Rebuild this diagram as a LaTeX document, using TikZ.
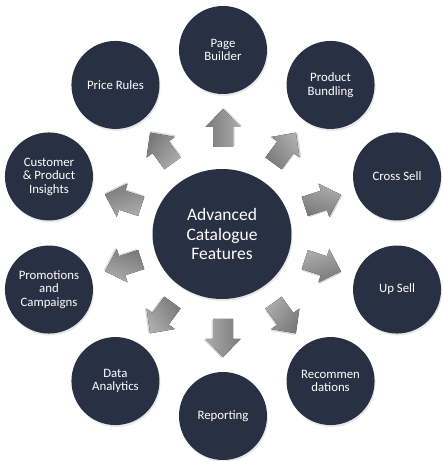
\documentclass[tikz,border=0pt]{standalone}
\usepackage{fontspec}
\setmainfont{Carlito}
\usetikzlibrary{shapes.geometric,shadows,calc}
\definecolor{navy}{RGB}{40,48,68}
\definecolor{arrtop}{RGB}{172,172,172}
\definecolor{arrbot}{RGB}{122,122,122}
\begin{document}
\begin{tikzpicture}[x=1pt,y=1pt,
  hub/.style={ellipse, fill=navy, minimum width=139pt, minimum height=130pt, inner sep=0pt,
    text=white, align=center, font=\fontsize{17.5}{19.5}\selectfont,
    drop shadow={opacity=0.18, shadow xshift=1pt, shadow yshift=-2pt}},
  sat/.style={circle, fill=navy, minimum size=88pt, inner sep=0pt,
    text=white, align=center, font=\fontsize{12.8}{13.5}\selectfont,
    drop shadow={opacity=0.18, shadow xshift=1pt, shadow yshift=-2pt}},
  blockarrow/.pic={
    \fill[black, opacity=0.15] (-18,-11.5) -- (2,-11.5) -- (2,-19) -- (20,-1.5) -- (2,16) -- (2,8.5) -- (-18,8.5) -- cycle;
    \fill[top color=arrtop, bottom color=arrbot, shading angle=-\a]
      (-19,-10) -- (1,-10) -- (1,-17.5) -- (19,0) -- (1,17.5) -- (1,10) -- (-19,10) -- cycle;
  }]
\useasboundingbox (0,0) rectangle (444,461);
\coordinate (C) at (223,228);
\node[hub] (hubnode) at (222,227) {Advanced\\Catalogue\\Features};
\foreach \a/\n/\t in {90/pb/{Page\\Builder}, 54/bund/{Product\\Bundling}, 18/cross/{Cross Sell},
  -18/up/{Up Sell}, -54/rec/{Recommen\\dations}, -90/rep/{Reporting},
  -126/data/{Data\\Analytics}, -162/promo/{Promotions\\and\\Campaigns},
  162/cust/{Customer\\\& Product\\Insights}, 126/price/{Price Rules}}{
  \node[sat] (\n) at ($(C)+(\a:183)$) {\t};
  \pic[rotate=\a] at ($(C)+(\a:105)$) {blockarrow};
}
\end{tikzpicture}
\end{document}
